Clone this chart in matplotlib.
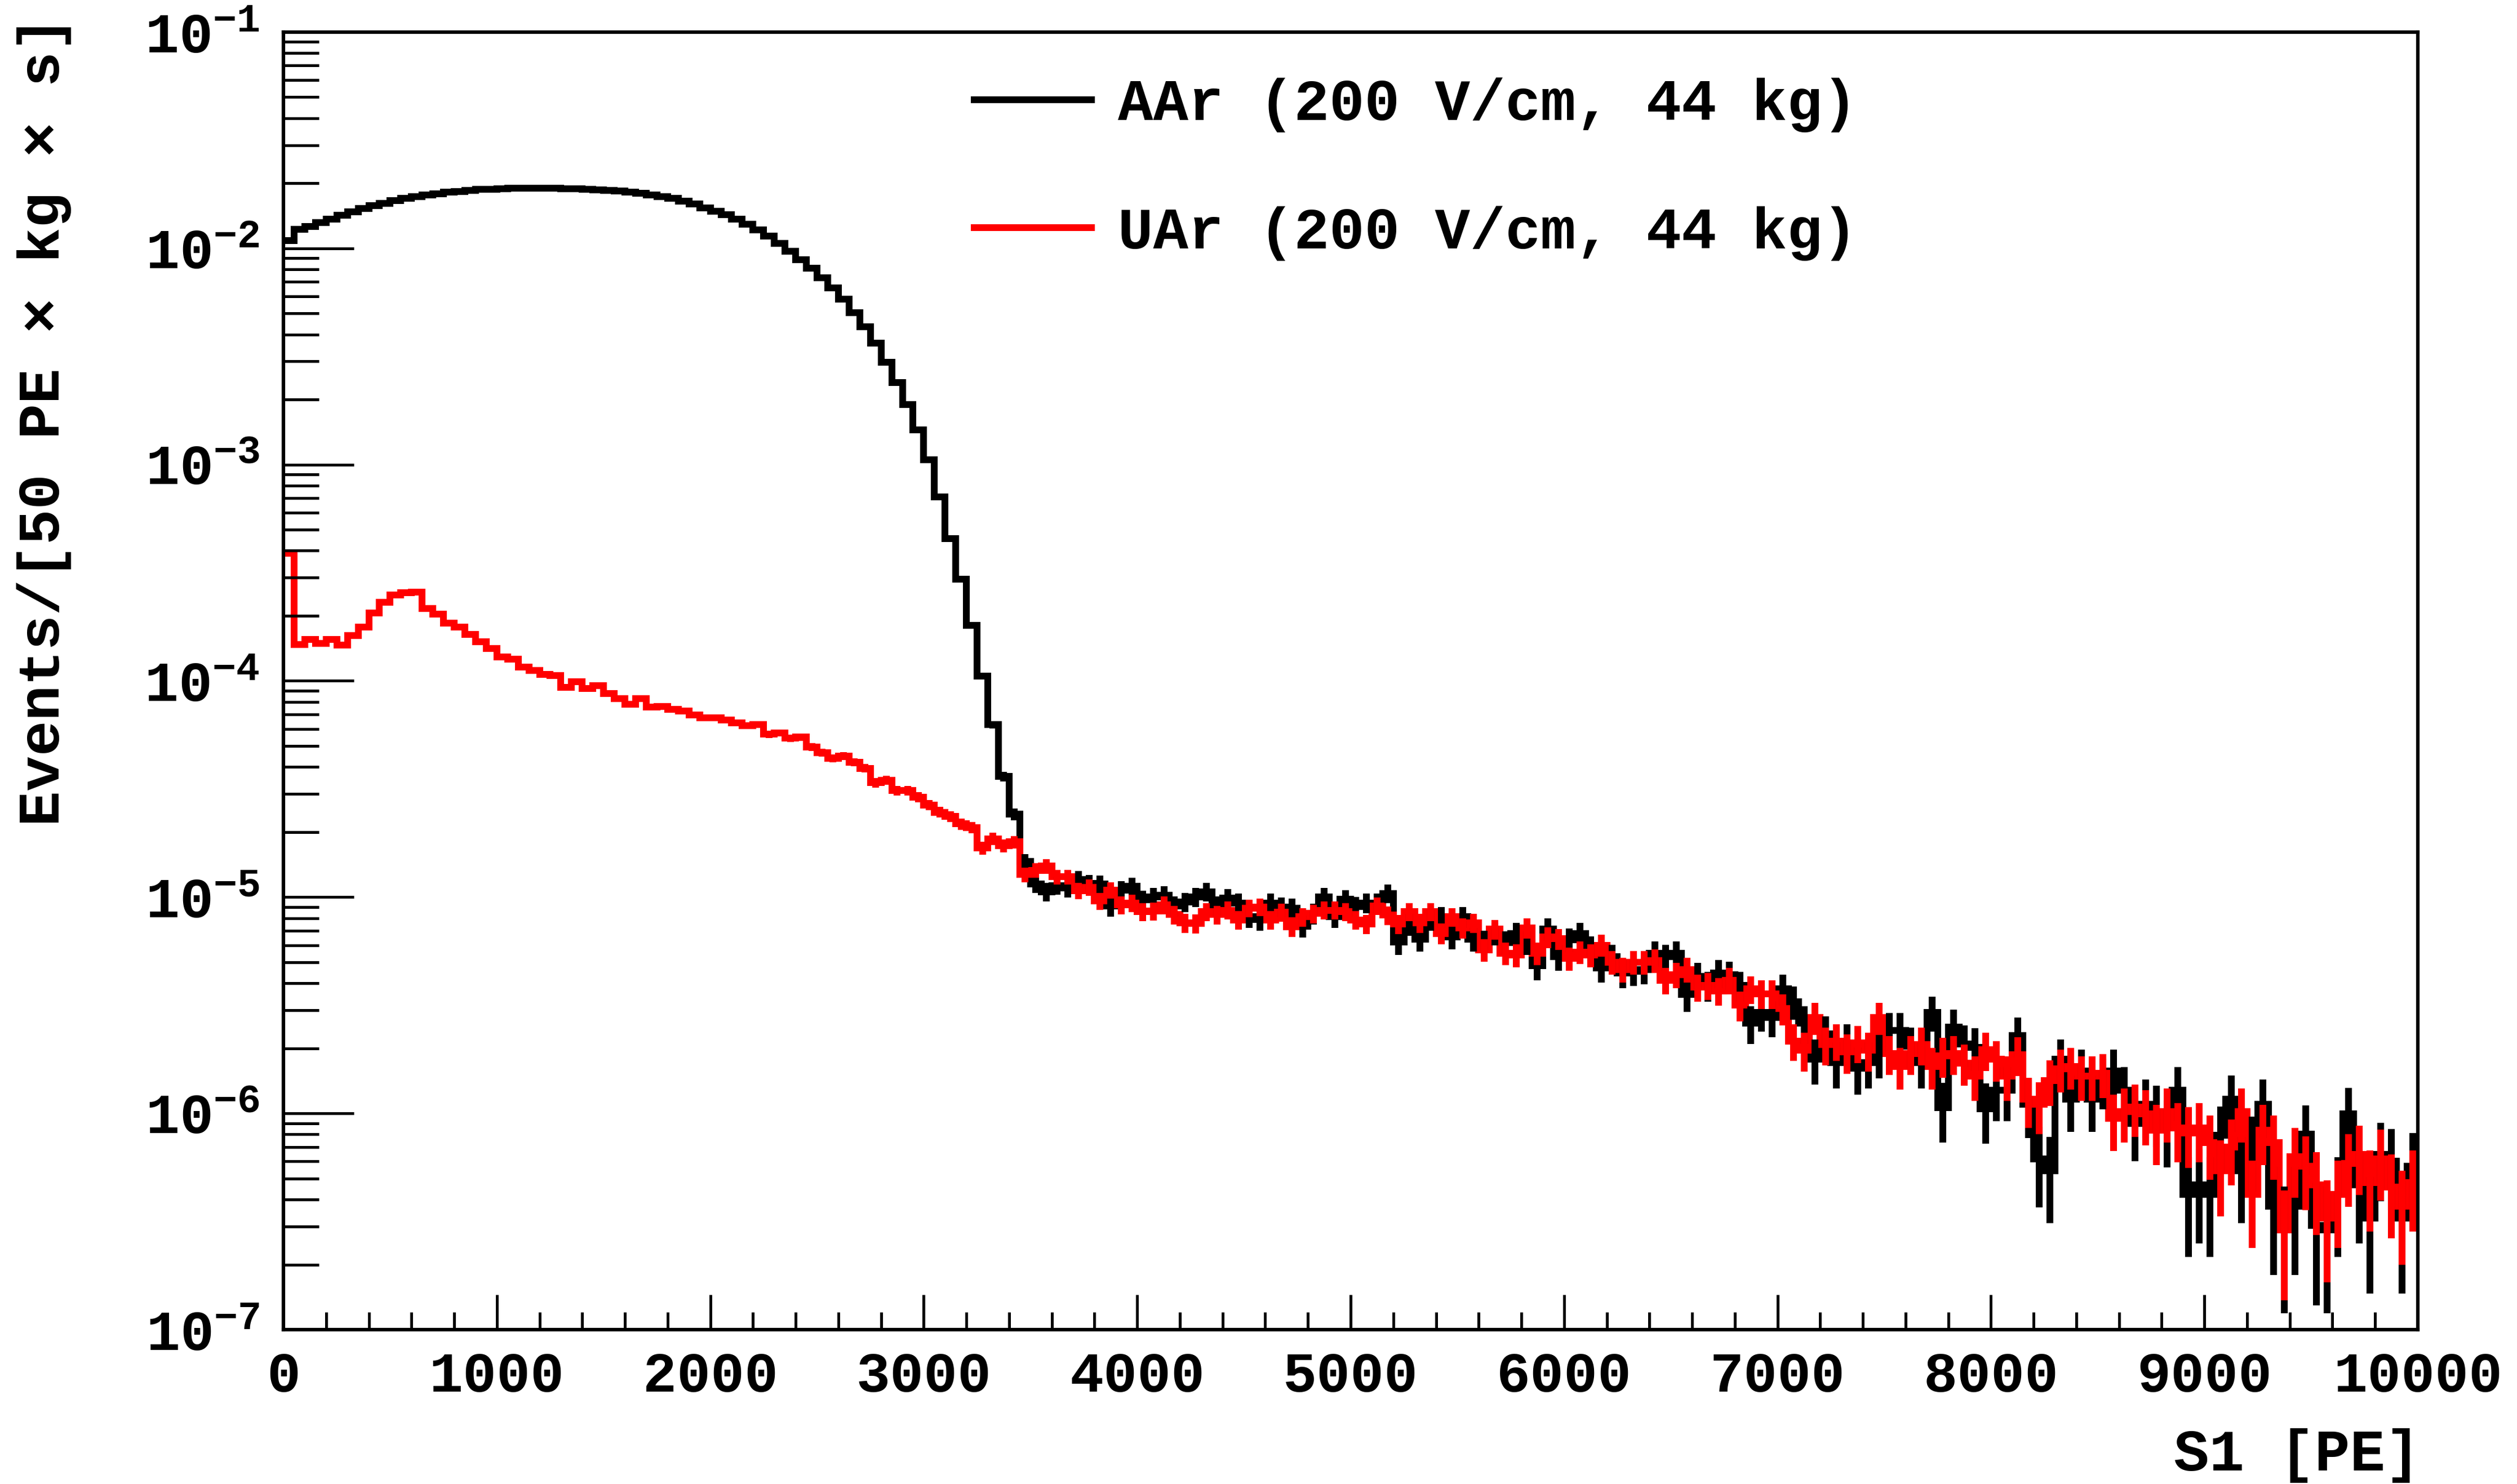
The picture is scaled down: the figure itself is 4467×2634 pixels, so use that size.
import numpy as np
import matplotlib.pyplot as plt
from matplotlib.lines import Line2D
from matplotlib.ticker import MultipleLocator, LogLocator, NullFormatter

# S1 spectra, 50 PE bins from 0 to 10000 PE, Events/[50 PE x kg x s]
aar = [
    1.086e-2, 1.225e-2, 1.265e-2, 1.313e-2, 1.367e-2, 1.423e-2, 1.474e-2, 1.526e-2, 1.576e-2, 1.618e-2,
    1.658e-2, 1.698e-2, 1.730e-2, 1.763e-2, 1.792e-2, 1.816e-2, 1.835e-2, 1.855e-2, 1.870e-2, 1.880e-2,
    1.890e-2, 1.895e-2, 1.900e-2, 1.900e-2, 1.900e-2, 1.895e-2, 1.890e-2, 1.885e-2, 1.875e-2, 1.865e-2,
    1.855e-2, 1.840e-2, 1.820e-2, 1.796e-2, 1.768e-2, 1.735e-2, 1.698e-2, 1.653e-2, 1.601e-2, 1.542e-2,
    1.485e-2, 1.427e-2, 1.364e-2, 1.293e-2, 1.215e-2, 1.136e-2, 1.054e-2, 9.68e-3, 8.86e-3, 8.09e-3,
    7.31e-3, 6.57e-3, 5.82e-3, 5.05e-3, 4.34e-3, 3.64e-3, 2.98e-3, 2.39e-3, 1.90e-3, 1.45e-3,
    1.05e-3, 7.1e-4, 4.56e-4, 2.96e-4, 1.81e-4, 1.05e-4, 6.28e-5, 3.61e-5, 2.42e-5, 1.46e-5,
    1.15e-5, 1.06e-5, 1.13e-5, 1.10e-5, 1.21e-5, 1.16e-5, 1.15e-5, 9.1e-6, 1.08e-5, 1.12e-5,
    9.7e-6, 1.0e-5, 1.02e-5, 9.1e-6, 9.5e-6, 1.0e-5, 1.06e-5, 9.1e-6, 9.9e-6, 9.4e-6,
    8.1e-6, 7.9e-6, 9.4e-6, 9.0e-6, 8.9e-6, 7.35e-6, 8.4e-6, 1.0e-5, 8.1e-6, 9.8e-6,
    9.06e-6, 9.4e-6, 9.4e-6, 1.04e-5, 6.2e-6, 7.5e-6, 6.4e-6, 7.9e-6, 8.1e-6, 6.55e-6,
    8.1e-6, 6.4e-6, 6.2e-6, 6.8e-6, 6.18e-6, 6.8e-6, 6.18e-6, 4.82e-6, 7.13e-6, 5.3e-6,
    6.36e-6, 6.8e-6, 5.83e-6, 4.72e-6, 5.3e-6, 4.46e-6, 4.55e-6, 4.63e-6, 5.5e-6, 5.3e-6,
    5.5e-6, 3.55e-6, 4.3e-6, 3.9e-6, 4.46e-6, 4.38e-6, 3.9e-6, 2.61e-6, 2.93e-6, 2.77e-6,
    3.76e-6, 3.29e-6, 2.61e-6, 1.78e-6, 2.33e-6, 1.72e-6, 2.12e-6, 1.62e-6, 1.72e-6, 1.89e-6,
    2.42e-6, 2.42e-6, 2.04e-6, 1.72e-6, 2.93e-6, 1.06e-6, 2.51e-6, 2.1e-6, 2.02e-6, 1.05e-6,
    1.28e-6, 1.28e-6, 2.29e-6, 1.10e-6, 6.17e-7, 5.43e-7, 1.78e-6, 1.16e-6, 1.57e-6, 1.16e-6,
    1.42e-6, 1.57e-6, 1.28e-6, 9.0e-7, 1.10e-6, 1.02e-6, 8.55e-7, 1.28e-6, 4.22e-7, 4.67e-7,
    4.22e-7, 7.93e-7, 1.16e-6, 5.43e-7, 7.0e-7, 1.10e-6, 3.72e-7, 2.89e-7, 3.72e-7, 8.03e-7,
    3.04e-7, 2.89e-7, 4.22e-7, 9.95e-7, 4.67e-7, 3.28e-7, 6.48e-7, 6.01e-7, 3.28e-7, 5.71e-7,
]

uar = [
    3.89e-4, 1.47e-4, 1.55e-4, 1.49e-4, 1.55e-4, 1.46e-4, 1.62e-4, 1.77e-4, 2.06e-4, 2.31e-4,
    2.49e-4, 2.55e-4, 2.57e-4, 2.16e-4, 2.03e-4, 1.85e-4, 1.77e-4, 1.64e-4, 1.52e-4, 1.41e-4,
    1.29e-4, 1.26e-4, 1.16e-4, 1.12e-4, 1.07e-4, 1.06e-4, 9.33e-5, 9.91e-5, 9.2e-5, 9.48e-5,
    8.75e-5, 8.30e-5, 7.80e-5, 8.30e-5, 7.55e-5, 7.6e-5, 7.39e-5, 7.25e-5, 6.95e-5, 6.75e-5,
    6.75e-5, 6.59e-5, 6.4e-5, 6.21e-5, 6.3e-5, 5.66e-5, 5.75e-5, 5.43e-5, 5.5e-5, 4.95e-5,
    4.66e-5, 4.39e-5, 4.5e-5, 4.21e-5, 3.94e-5, 3.38e-5, 3.47e-5, 3.11e-5, 3.11e-5, 2.90e-5,
    2.67e-5, 2.47e-5, 2.36e-5, 2.18e-5, 2.10e-5, 1.69e-5, 1.86e-5, 1.73e-5, 1.8e-5, 1.27e-5,
    1.33e-5, 1.39e-5, 1.24e-5, 1.24e-5, 1.07e-5, 1.11e-5, 9.6e-6, 1.08e-5, 9.2e-6, 9.4e-6,
    8.55e-6, 8.6e-6, 9.2e-6, 8.3e-6, 7.6e-6, 7.55e-6, 8.55e-6, 8.3e-6, 8.7e-6, 7.85e-6,
    8.9e-6, 9.0e-6, 7.85e-6, 8.5e-6, 7.3e-6, 8.1e-6, 8.4e-6, 8.7e-6, 8.7e-6, 8.55e-6,
    7.85e-6, 7.5e-6, 9.1e-6, 8.25e-6, 7.5e-6, 8.55e-6, 7.6e-6, 8.55e-6, 6.8e-6, 8.1e-6,
    7.2e-6, 7.6e-6, 5.7e-6, 7.1e-6, 5.5e-6, 5.4e-6, 7.2e-6, 5.5e-6, 6.54e-6, 6.42e-6,
    5.2e-6, 5.56e-6, 5.4e-6, 6.0e-6, 5.0e-6, 4.63e-6, 5.0e-6, 5.0e-6, 5.1e-6, 4.13e-6,
    4.38e-6, 4.63e-6, 3.83e-6, 3.9e-6, 3.69e-6, 4.13e-6, 3.16e-6, 3.76e-6, 3.58e-6, 3.58e-6,
    3.05e-6, 2.16e-6, 1.96e-6, 2.77e-6, 2.08e-6, 2.16e-6, 1.92e-6, 2.12e-6, 1.96e-6, 2.77e-6,
    1.89e-6, 1.65e-6, 1.89e-6, 2.08e-6, 1.65e-6, 1.85e-6, 1.89e-6, 1.71e-6, 1.49e-6, 1.97e-6,
    1.78e-6, 1.49e-6, 1.87e-6, 1.16e-6, 1.10e-6, 1.42e-6, 1.61e-6, 1.65e-6, 1.49e-6, 1.49e-6,
    1.53e-6, 9.47e-7, 1.02e-6, 1.07e-6, 9.95e-7, 8.34e-7, 1.02e-6, 8.55e-7, 8.13e-7, 8.55e-7,
    7.35e-7, 5.43e-7, 7.0e-7, 1.02e-6, 4.22e-7, 8.34e-7, 7.35e-7, 2.89e-7, 6.32e-7, 5.71e-7,
    4.67e-7, 3.28e-7, 4.22e-7, 5.86e-7, 6.48e-7, 4.79e-7, 6.17e-7, 4.55e-7, 3.72e-7, 4.79e-7,
]

# weight of a single event in the plotted units (sets the Poisson error bars)
aar_event_weight = 1.0e-7
uar_event_weight = 8.0e-8

labels = ['AAr (200 V/cm, 44 kg)', 'UAr (200 V/cm, 44 kg)']

plt.rcParams['font.family'] = ['Liberation Mono', 'DejaVu Sans']
plt.rcParams['font.weight'] = 'bold'
plt.rcParams['mathtext.fontset'] = 'custom'
plt.rcParams['mathtext.rm'] = 'Liberation Mono:bold'
plt.rcParams['mathtext.it'] = 'Liberation Mono:bold'
plt.rcParams['mathtext.bf'] = 'Liberation Mono:bold'

edges = np.linspace(0, 10000, len(aar) + 1)
centers = 0.5 * (edges[:-1] + edges[1:])

fig = plt.figure(figsize=(4467 / 300, 2634 / 300), dpi=300)
ax = fig.add_axes([0.1126, 0.1040, 0.8480, 0.8744])

lw = 2.9
for vals, w, col in [(aar, aar_event_weight, 'black'), (uar, uar_event_weight, 'red')]:
    v = np.array(vals)
    err = np.sqrt(v * w)
    lo = np.minimum(err, 0.9 * v)
    ax.stairs(v, edges, color=col, lw=lw, baseline=None)
    ax.errorbar(centers, v, yerr=[lo, err], fmt='none', ecolor=col,
                elinewidth=lw, capsize=0)

ax.set_yscale('log')
ax.set_xlim(0, 10000)
ax.set_ylim(1e-7, 1e-1)

ax.xaxis.set_major_locator(MultipleLocator(1000))
ax.xaxis.set_minor_locator(MultipleLocator(200))
ax.yaxis.set_major_locator(LogLocator(base=10, numticks=20))
ax.yaxis.set_minor_locator(LogLocator(base=10, subs=np.arange(2, 10), numticks=20))
ax.yaxis.set_minor_formatter(NullFormatter())

ax.tick_params(which='both', direction='in', top=False, right=False,
               labelsize=24, width=1.2)
ax.tick_params(axis='y', which='major', length=30, pad=10)
ax.tick_params(axis='y', which='minor', length=15)
ax.tick_params(axis='x', which='major', length=15, pad=9)
ax.tick_params(axis='x', which='minor', length=7.5)
for s in ax.spines.values():
    s.set_linewidth(1.5)

handles = [Line2D([], [], color='black', lw=lw), Line2D([], [], color='red', lw=lw)]
ax.legend(handles, labels, loc='upper left', bbox_to_anchor=(0.3237, 0.965),
          frameon=False, fontsize=25, handlelength=2.0, handletextpad=0.45,
          labelspacing=1.25, borderaxespad=0, borderpad=0)

fig.text(78 / 4467, 1 - 29 / 2634, 'Events/[50 PE × kg × s]', rotation=90,
         ha='center', va='top', fontsize=25)
fig.text(4296 / 4467, 1 - 2584 / 2634, 'S1 [PE]', ha='right', va='center',
         fontsize=25)

fig.savefig('out.png', dpi=300)
